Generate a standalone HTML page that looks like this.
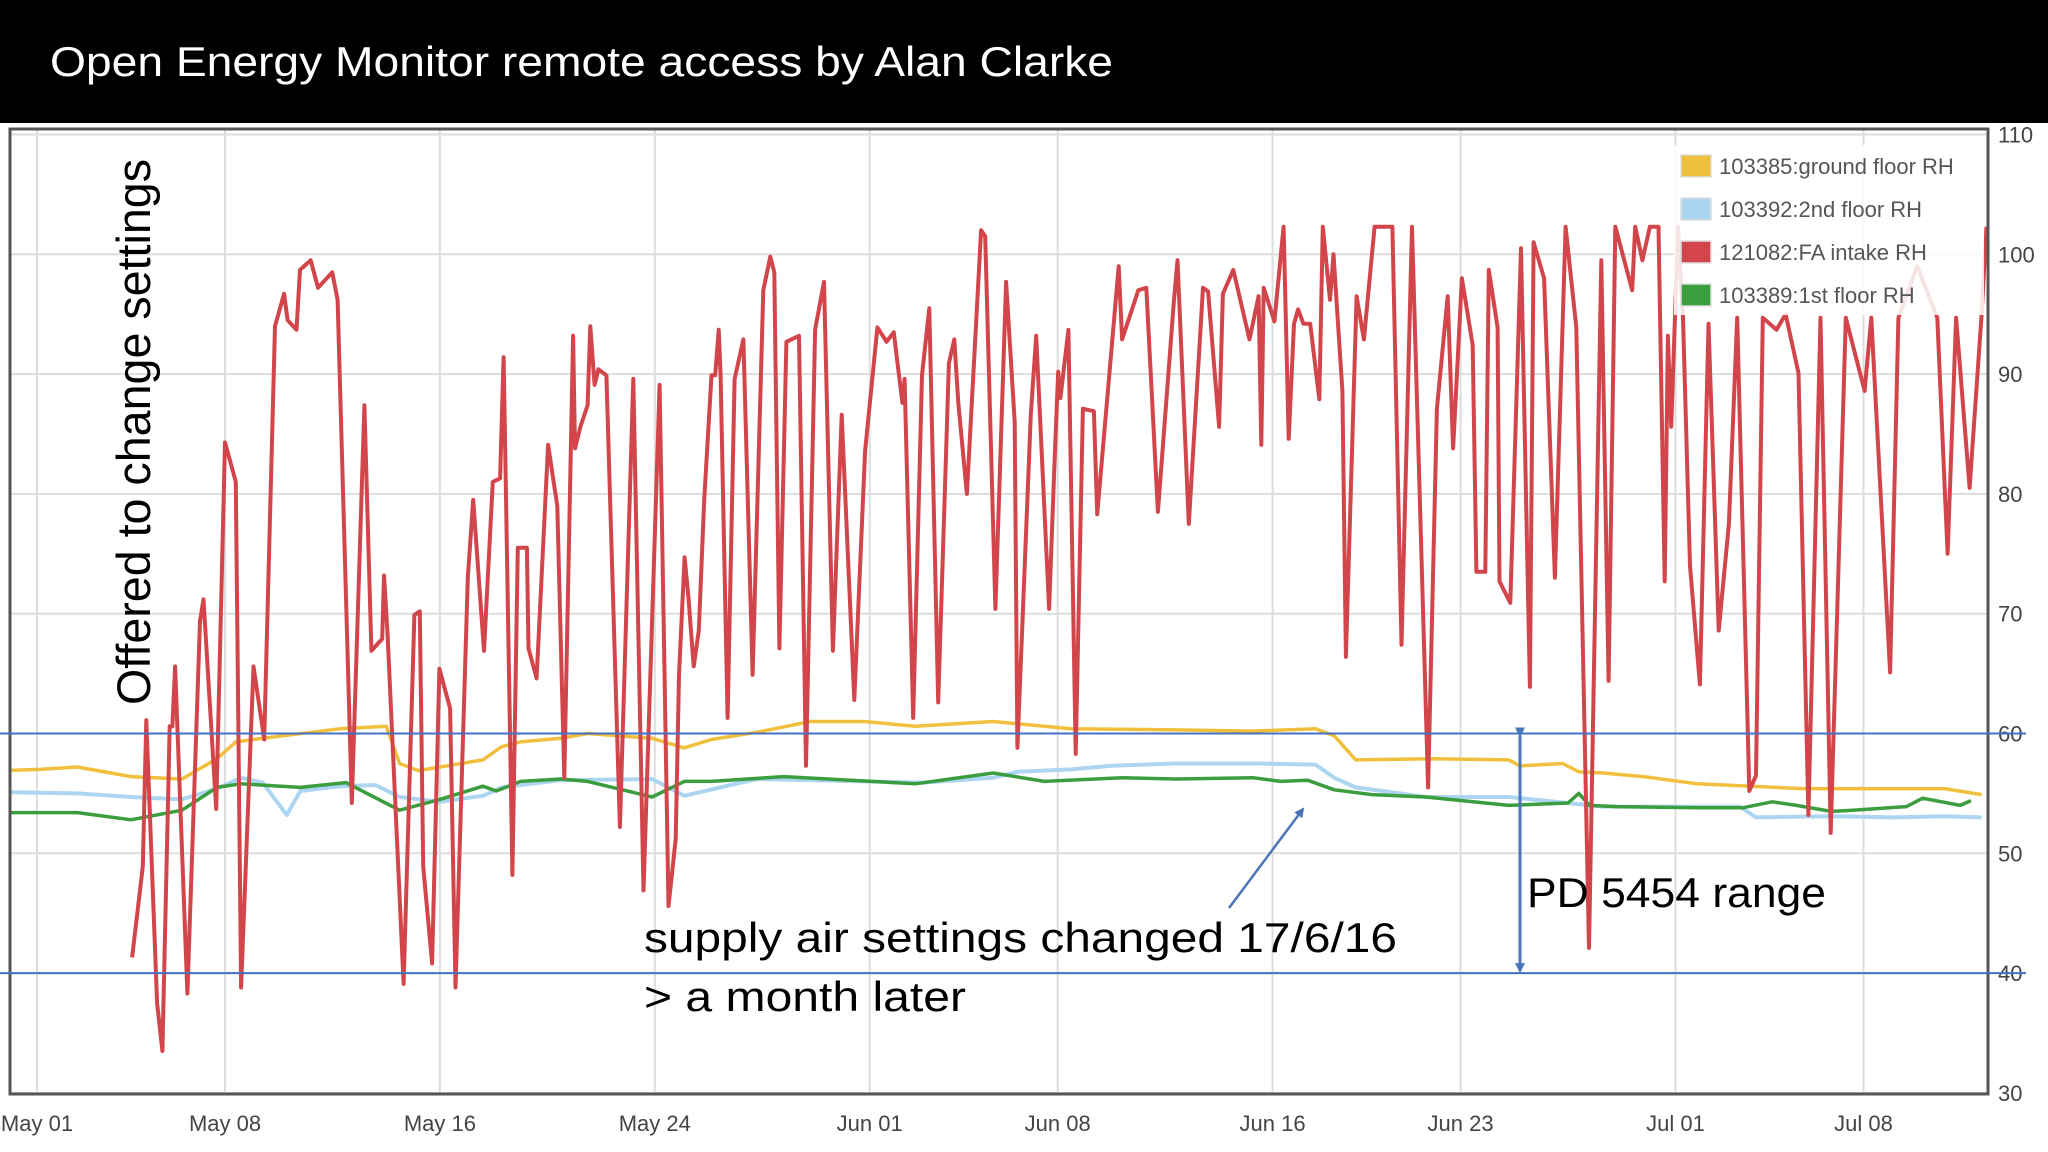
<!DOCTYPE html>
<html><head><meta charset="utf-8">
<style>
html,body{margin:0;padding:0;background:#fff;}
svg{display:block;}
</style></head>
<body>
<svg id="chart" width="2048" height="1152" viewBox="0 0 2048 1152" xmlns="http://www.w3.org/2000/svg">
  <rect x="0" y="0" width="2048" height="123" fill="#000"/>
  <text x="50" y="76" fill="#fff" font-family="Liberation Sans, sans-serif" font-size="42" textLength="1063" lengthAdjust="spacingAndGlyphs">Open Energy Monitor remote access by Alan Clarke</text>
  <g id="grid"></g>
  <g id="series" clip-path="url(#plotclip)"></g>
  <defs><clipPath id="plotclip"><rect x="10" y="130" width="1978" height="964"/></clipPath>
    <marker id="ah" markerWidth="10" markerHeight="10" refX="8" refY="5" orient="auto" markerUnits="userSpaceOnUse"><path d="M0,0 L10,5 L0,10 z" fill="#4a76b8"/></marker>
  </defs>
  <rect x="10" y="129" width="1978" height="965" fill="none" stroke="#555" stroke-width="3"/>
  <g id="axes"></g>
  <g id="legend"></g>
  <g id="notes"></g>
</svg>
<script>
const yTicks=[30,40,50,60,70,80,90,100,110];
const xTickLabels=["May 01","May 08","May 16","May 24","Jun 01","Jun 08","Jun 16","Jun 23","Jul 01","Jul 08"];
const xTickDays=[0,7,15,23,31,38,46,53,61,68];
const refLines=[60,40];
const redDays=[3.54,3.94,4.07,4.47,4.67,4.94,5.04,5.14,5.6,6.07,6.2,6.67,7.0,7.4,7.6,8.06,8.46,8.86,9.2,9.33,9.66,9.79,10.19,10.46,10.99,11.19,11.72,12.19,12.45,12.85,12.92,13.05,13.65,14.05,14.25,14.38,14.71,14.98,15.38,15.58,16.04,16.24,16.64,16.97,17.24,17.37,17.45,17.7,17.9,18.24,18.3,18.6,19.03,19.37,19.63,19.96,20.03,20.23,20.5,20.6,20.76,20.9,21.2,21.7,22.2,22.58,23.18,23.51,23.78,23.9,24.11,24.25,24.45,24.64,24.84,25.11,25.25,25.38,25.45,25.71,25.97,26.3,26.64,27.04,27.3,27.45,27.64,27.9,28.37,28.63,28.97,29.3,29.63,29.96,30.43,30.83,31.29,31.63,31.9,32.02,32.22,32.3,32.62,32.95,33.22,33.55,33.95,34.15,34.3,34.62,35.15,35.3,35.68,36.08,36.4,36.5,37.0,37.2,37.68,37.88,38.02,38.1,38.4,38.67,38.94,39.35,39.47,40.27,40.4,41.0,41.3,41.73,42.33,42.46,42.88,43.41,43.6,44.01,44.15,44.54,45.14,45.48,45.58,45.67,46.07,46.41,46.6,46.8,46.95,47.15,47.4,47.74,47.87,48.14,48.27,48.6,48.73,49.13,49.4,49.8,50.46,50.8,51.19,51.79,52.12,52.52,52.72,53.05,53.45,53.59,53.92,54.05,54.38,54.45,54.85,55.25,55.58,55.72,56.11,56.51,56.91,57.31,57.78,58.24,58.51,58.76,59.39,59.5,59.77,60.05,60.37,60.6,60.72,60.84,61.1,61.28,61.54,61.91,62.23,62.61,62.99,63.3,63.75,64.0,64.25,64.76,65.1,65.58,65.95,66.4,66.78,67.34,68.04,68.29,68.99,69.3,70.0,70.75,71.13,71.45,71.95,72.39,72.58];
const redValues=[41.3,48.9,61.1,37.5,33.5,60.6,60.6,65.6,38.3,69.4,71.2,53.7,84.3,81,38.8,65.6,59.5,94,96.7,94.5,93.7,98.7,99.5,97.2,98.5,96.2,54.2,87.4,66.9,67.9,73.2,68.4,39.1,69.9,70.2,48.9,40.8,65.4,62.1,38.8,73,79.5,66.9,81,81.3,91.4,81.3,48.2,75.5,75.5,67.1,64.6,84.1,79,56.3,93.2,83.8,85.6,87.4,94,89.1,90.4,89.9,52.2,89.6,46.9,89.1,45.6,51.2,64.9,74.7,71.4,65.6,68.6,79.5,89.9,89.9,93.7,89.9,61.3,89.6,92.9,64.9,97,99.8,98.5,67.1,92.7,93.2,57.3,93.7,97.7,66.9,86.6,62.8,83.6,93.9,92.7,93.5,91.2,87.6,89.6,61.3,89.9,95.5,62.6,90.9,92.9,87.6,80,102,101.5,70.4,97.7,86,58.8,86.6,93.2,70.4,82.6,90.2,88,93.7,58.3,87.1,86.9,78.3,99,92.9,97,97.2,78.5,96.2,99.5,77.5,97.2,96.9,85.6,96.7,98.7,92.9,96.5,84.1,97.2,94.4,102.3,84.6,94.2,95.4,94.2,94.2,87.9,102.3,96.2,100,88.6,66.4,96.5,92.9,102.3,102.3,67.4,102.3,55.5,87.1,96.5,83.8,98,92.4,73.5,73.5,98.7,93.9,72.7,70.9,100.5,63.9,101,98,73,102.3,93.9,42.1,99.5,64.4,102.3,97,102.3,99.5,102.3,102.3,72.7,93.2,85.6,102.3,94.7,74,64.1,94.2,68.6,77.5,94.7,55.2,56.5,94.7,93.7,95,90.1,53.2,94.7,51.7,94.7,88.6,94.7,65.1,94.7,99,94.7,75,94.7,80.5,94.7,102.3];
const yellowDays=[-1.2,0.1,1.5,3.5,5.4,6.7,7.4,8.4,11.3,13.0,13.5,14.2,15.0,16.6,17.3,18.0,19.5,20.5,22.9,24.1,25.1,26.8,28.8,30.8,32.7,35.6,38.5,42.4,45.3,47.6,48.3,49.1,52.0,54.8,55.2,56.8,57.4,58.3,59.8,61.8,65.7,69.1,71.0,72.4];
const yellowValues=[56.9,57.0,57.2,56.4,56.2,57.9,59.3,59.6,60.4,60.6,57.5,56.9,57.2,57.8,58.9,59.3,59.6,60.0,59.6,58.8,59.5,60.1,61.0,61.0,60.6,61.0,60.4,60.3,60.2,60.4,59.8,57.8,57.9,57.8,57.3,57.5,56.8,56.7,56.4,55.8,55.4,55.4,55.4,54.9];
const blueDays=[-1.2,1.5,3.5,5.4,6.7,7.6,8.4,9.3,9.8,11.3,12.6,13.5,15.0,16.6,17.3,19.5,22.9,24.1,26.8,30.8,33.0,35.6,36.5,38.5,40,42.4,45.3,47.6,48.3,49.1,51.7,54.8,57.4,58.3,61.0,63.4,64.0,66.8,69.1,71.0,72.4];
const blueValues=[55.1,55.0,54.7,54.5,55.4,56.3,55.9,53.2,55.2,55.6,55.7,54.7,54.3,54.8,55.5,56.1,56.2,54.8,56.2,56.0,55.9,56.3,56.8,57.0,57.3,57.5,57.5,57.4,56.3,55.5,54.7,54.7,54.1,53.9,53.9,53.9,53.0,53.1,53.0,53.1,53.0];
const greenDays=[-1.2,1.5,3.5,5.4,6.7,7.6,9.8,11.5,13.5,15.0,16.6,17.1,18.0,19.5,20.5,22.9,24.1,25.1,27.8,32.7,35.6,37.5,40.4,42.4,45.3,46.3,47.3,48.3,49.7,51.7,54.8,57.0,57.4,57.8,58.8,61.8,63.5,64.6,65.5,66.8,67.6,69.6,70.2,71.6,72.0];
const greenValues=[53.4,53.4,52.8,53.6,55.5,55.8,55.5,55.9,53.6,54.5,55.6,55.2,56.0,56.2,56.0,54.7,56.0,56.0,56.4,55.8,56.7,56.0,56.3,56.2,56.3,56.0,56.1,55.3,54.9,54.7,54.0,54.2,55.0,54.0,53.9,53.8,53.8,54.3,54.0,53.5,53.6,53.9,54.6,54.0,54.4];

const NS='http://www.w3.org/2000/svg';
const X=d=>37+d*26.86;
const Y=v=>134.5+(110-v)*11.98;
function mk(tag,attrs,parent){const e=document.createElementNS(NS,tag);for(const k in attrs)e.setAttribute(k,attrs[k]);parent.appendChild(e);return e;}
const grid=document.getElementById('grid'),axes=document.getElementById('axes'),series=document.getElementById('series'),legend=document.getElementById('legend'),notes=document.getElementById('notes');
const FONT='Liberation Sans, sans-serif';

yTicks.forEach(v=>{
  const l=mk('line',{x1:10,x2:1988,y1:Y(v),y2:Y(v),stroke:'#ddd','stroke-width':2},grid);
  
  
  const t=mk('text',{x:1998,y:Y(v)+8,'font-family':FONT,'font-size':22,fill:'#444'},axes);
  
  
  t.textContent=v;
});
xTickDays.forEach((d,i)=>{
  const l=mk('line',{x1:X(d),x2:X(d),y1:130,y2:1094,stroke:'#ddd','stroke-width':2},grid);
  
  
  const t=mk('text',{x:X(d),y:1131,'font-family':FONT,'font-size':22,fill:'#444','text-anchor':'middle'},axes);
  
  
  t.textContent=xTickLabels[i];
});
function drawLine(days,vals,color,w,name){
  const pts=days.map((d,i)=>X(d).toFixed(1)+','+Y(vals[i]).toFixed(1)).join(' ');
  const p=mk('polyline',{points:pts,fill:'none',stroke:color,'stroke-width':w,'stroke-linejoin':'round'},series);
  
  
}
drawLine(yellowDays,yellowValues,'#f0c03c',3.5,'ground-floor-line');
drawLine(blueDays,blueValues,'#acd5f2',4,'second-floor-line');
drawLine(greenDays,greenValues,'#3a9d3e',3.5,'first-floor-line');
drawLine(redDays,redValues,'#d2464b',4,'fa-intake-line');

// legend
const legItems=[['#f0c03c','103385:ground floor RH'],['#acd5f2','103392:2nd floor RH'],['#d2464b','121082:FA intake RH'],['#3a9d3e','103389:1st floor RH']];
const lb=mk('rect',{x:1674,y:145,width:310,height:170,fill:'rgba(255,255,255,0.85)'},legend);


legItems.forEach((it,i)=>{
  const cy=166+i*43;
  const s=mk('rect',{x:1681,y:cy-11,width:30,height:22,fill:it[0],stroke:'#ddd','stroke-width':1.5},legend);
  
  
  const t=mk('text',{x:1719,y:cy+8,'font-family':FONT,'font-size':22,fill:'#555'},legend);
  
  
  t.textContent=it[1];
});

// reference lines
refLines.forEach(v=>{
  const l=mk('line',{x1:0,x2:2026,y1:Y(v),y2:Y(v),stroke:'#4472c4','stroke-width':2},notes);
  
  
});
// double arrow
const da=mk('line',{x1:1520,y1:Y(60)+2,x2:1520,y2:Y(40)-2,stroke:'#4a76b8','stroke-width':3,'marker-start':'url(#ah)','marker-end':'url(#ah)'},notes);


const ar=mk('line',{x1:1229,y1:908,x2:1303,y2:809,stroke:'#4a76b8','stroke-width':2.5,'marker-end':'url(#ah)'},notes);



function note(txt,x,y,size,len,name,rot){
  const t=mk('text',{x:x,y:y,'font-family':FONT,'font-size':size,fill:'#000',textLength:len,lengthAdjust:'spacingAndGlyphs'},notes);
  if(rot)t.setAttribute('transform',rot);
  
  
  t.textContent=txt;
}
note('supply air  settings changed 17/6/16',644,952,42,753,'settings-changed-note');
note('> a month later',644,1011,42,322,'month-later-note');
note('PD 5454 range',1527,907,42,299,'pd5454-range-label');
note('Offered to change settings',0,0,47,546,'offered-note','translate(150,705) rotate(-90)');
</script>
</body></html>
